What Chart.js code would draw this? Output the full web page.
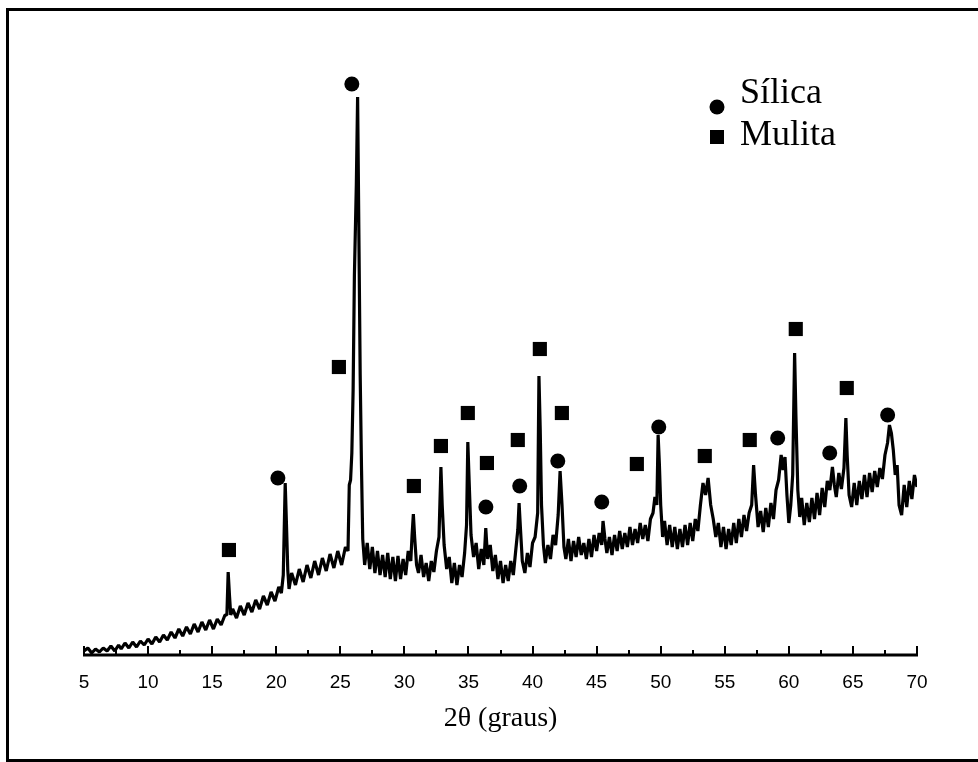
<!DOCTYPE html>
<html>
<head>
<meta charset="utf-8">
<title>DRX - Sílica e Mulita</title>
<script src="https://cdn.jsdelivr.net/npm/chart.js@4.4.1/dist/chart.umd.min.js"></script>
<style>
  html, body { margin: 0; padding: 0; background: #fff; }
  #wrap { position: relative; width: 978px; height: 762px; overflow: hidden; }
</style>
</head>
<body>
<div id="wrap"><canvas id="xrd" width="978" height="762"></canvas></div>
<script>
// Difratograma (2θ em graus x intensidade em u.a.), lido ponto a ponto da figura
const twoTheta = [
  5.0, 5.3, 5.6, 5.9, 6.2, 6.5, 6.8, 7.1, 7.4, 7.7, 7.9, 8.2, 8.5, 8.8, 9.1, 9.4, 9.7, 10.0,
  10.3, 10.6, 10.9, 11.2, 11.5, 11.8, 12.1, 12.4, 12.7, 13.0, 13.3, 13.6, 13.9, 14.2, 14.5, 14.8, 15.1, 15.4, 15.7, 16.0,
  16.15, 16.25, 16.35, 16.45, 16.6, 16.9, 17.2, 17.5, 17.8, 18.1, 18.4, 18.7, 19.0, 19.3, 19.6, 19.9, 20.2, 20.4,
  20.55, 20.7, 20.8, 20.9, 21.0, 21.2, 21.5, 21.8, 22.1, 22.4, 22.7, 23.0, 23.3, 23.6, 23.9, 24.2, 24.5, 24.8, 25.1, 25.4, 25.6,
  25.7, 25.8, 25.9, 26.0, 26.1, 26.25, 26.35, 26.45, 26.55, 26.65, 26.75,
  26.9, 27.1, 27.3, 27.5, 27.7, 27.9, 28.1, 28.3, 28.5, 28.7, 28.9, 29.1, 29.3, 29.5, 29.7, 29.9, 30.1, 30.3, 30.5,
  30.6, 30.7, 30.8, 30.95, 31.1, 31.3, 31.5, 31.7, 31.9, 32.1, 32.3, 32.5, 32.7, 32.85, 32.95, 33.1, 33.3, 33.5, 33.7, 33.9, 34.1, 34.3, 34.5, 34.7, 34.85, 34.95, 35.05, 35.2, 35.4,
  35.6, 35.8, 36.0, 36.2, 36.35, 36.5, 36.7, 36.9, 37.1, 37.3, 37.5, 37.7, 37.9, 38.1, 38.3, 38.5, 38.7, 38.85, 38.95, 39.05, 39.2, 39.4, 39.6, 39.8, 40.0, 40.2, 40.4,
  40.5, 40.6, 40.7, 40.85, 41.0, 41.2, 41.4, 41.6, 41.8, 42.0, 42.15, 42.3, 42.45, 42.6, 42.8, 43.0, 43.2, 43.4, 43.6, 43.8, 44.0, 44.2, 44.4, 44.6, 44.8, 45.0, 45.2, 45.4,
  45.5, 45.65, 45.8, 46.0, 46.2, 46.4, 46.6, 46.8, 47.0, 47.2, 47.4, 47.6, 47.8, 48.0, 48.2, 48.4, 48.6, 48.8, 49.0, 49.2, 49.4, 49.55, 49.7, 49.8, 49.9, 50.0,
  50.15, 50.3, 50.5, 50.7, 50.9, 51.1, 51.3, 51.5, 51.7, 51.9, 52.1, 52.3, 52.5, 52.7, 52.9, 53.1, 53.3, 53.5, 53.7, 53.9, 54.1, 54.3, 54.5, 54.7, 54.9,
  55.1, 55.3, 55.5, 55.7, 55.9, 56.1, 56.3, 56.5, 56.7, 56.9, 57.1, 57.25, 57.4, 57.6, 57.8, 58.0, 58.2, 58.4, 58.6, 58.8, 59.0, 59.2, 59.4, 59.55, 59.7, 59.85,
  60.0, 60.15, 60.3, 60.45, 60.55, 60.7, 60.85, 61.0, 61.2, 61.4, 61.6, 61.8, 62.0, 62.2, 62.4, 62.6, 62.8, 63.0, 63.2, 63.4, 63.55, 63.7, 63.9, 64.1, 64.3, 64.45, 64.55, 64.7, 64.9,
  65.1, 65.3, 65.5, 65.7, 65.9, 66.1, 66.3, 66.5, 66.7, 66.9, 67.1, 67.3, 67.5, 67.7, 67.85, 68.0, 68.15, 68.3, 68.45, 68.6, 68.8, 69.0, 69.2, 69.4, 69.6, 69.8, 70.0
];
const intensity = [
  4, 7, 2, 6, 3, 7, 4, 9, 4, 10, 6, 12, 7, 13, 8, 14, 10, 16,
  11, 18, 13, 20, 15, 23, 17, 26, 19, 28, 21, 31, 23, 33, 25, 35, 26, 36, 30, 40,
  40, 83, 60, 40, 46, 37, 49, 40, 52, 43, 55, 46, 59, 50, 63, 54, 68, 62,
  80, 172, 130, 85, 66, 82, 70, 86, 73, 90, 77, 94, 80, 97, 84, 101, 87, 104, 90, 108, 104,
  170, 175, 202, 265, 380, 470, 558, 420, 281, 190, 116,
  90, 112, 86, 108, 82, 104, 80, 100, 78, 102, 76, 98, 74, 99, 76, 96, 80, 104, 94,
  120, 141, 118, 90, 82, 100, 78, 92, 74, 94, 83, 104, 118, 188, 150, 110, 86, 98, 72, 92, 70, 90, 78, 102, 130, 213, 175, 120, 98,
  112, 86, 106, 90, 127, 96, 110, 84, 100, 76, 94, 72, 90, 74, 94, 80, 106, 125, 152, 128, 94, 82, 102, 88, 112, 118, 142,
  279, 225, 150, 110, 92, 110, 96, 120, 110, 140, 184, 150, 108, 96, 116, 94, 114, 98, 118, 100, 112, 96, 116, 98, 120, 104, 122, 110,
  134, 116, 102, 118, 100, 120, 104, 124, 106, 122, 108, 128, 110, 126, 112, 132, 116, 130, 114, 136, 142, 158, 150, 220, 190, 150,
  118, 134, 110, 130, 108, 128, 106, 126, 108, 130, 110, 132, 114, 136, 124, 150, 172, 160, 177, 150, 136, 118, 132, 108, 128,
  106, 126, 110, 132, 112, 136, 118, 140, 124, 142, 150, 190, 160, 128, 144, 123, 147, 128, 152, 136, 165, 175, 200, 185, 198, 160,
  132, 150, 180, 302, 240, 165, 138, 157, 130, 152, 133, 157, 136, 162, 140, 167, 148, 174, 165, 188, 170, 158, 182, 166, 187, 237, 200, 160, 148,
  172, 150, 174, 156, 180, 158, 182, 163, 184, 168, 187, 176, 200, 212, 230, 222, 205, 180, 190, 150, 140, 170, 148, 174, 156, 180, 168
];

// marcadores de fase (posição 2θ e altura do símbolo)
const silicaTheta = [20.13, 25.9, 36.36, 39.0, 41.97, 45.4, 49.85, 59.13, 63.19, 67.71];
const silicaMark  = [177, 571, 148, 169, 194, 153, 228, 217, 202, 240];
const mulitaTheta = [16.31, 24.89, 30.74, 32.85, 34.95, 36.44, 38.85, 40.57, 42.29, 48.14, 53.44, 56.95, 60.54, 64.52];
const mulitaMark  = [105, 288, 169, 209, 242, 192, 215, 306, 242, 191, 199, 215, 326, 267];

const majorTicks = [5, 10, 15, 20, 25, 30, 35, 40, 45, 50, 55, 60, 65, 70];
const minorTicks = [7.5, 12.5, 17.5, 22.5, 27.5, 32.5, 37.5, 42.5, 47.5, 52.5, 57.5, 62.5, 67.5];

const trace = twoTheta.map((t, i) => ({ x: t, y: intensity[i] }));
const silica = silicaTheta.map((t, i) => ({ x: t, y: silicaMark[i] }));
const mulita = mulitaTheta.map((t, i) => ({ x: t, y: mulitaMark[i] }));

// eixo com marcas para dentro, legenda e moldura
const axisAndFrame = {
  id: 'axisAndFrame',
  beforeDatasetsDraw(chart) {
    const { ctx, scales: { x, y } } = chart;
    const y0 = y.getPixelForValue(0);
    ctx.save();
    ctx.strokeStyle = '#000';
    ctx.lineWidth = 3;
    ctx.beginPath();
    ctx.moveTo(x.getPixelForValue(5) - 1, y0);
    ctx.lineTo(x.getPixelForValue(70) + 1, y0);
    ctx.stroke();
    ctx.lineWidth = 2;
    ctx.beginPath();
    majorTicks.forEach(t => {
      const px = Math.round(x.getPixelForValue(t));
      ctx.moveTo(px, y0);
      ctx.lineTo(px, y0 - 9);
    });
    minorTicks.forEach(t => {
      const px = Math.round(x.getPixelForValue(t));
      ctx.moveTo(px, y0);
      ctx.lineTo(px, y0 - 5);
    });
    ctx.stroke();
    ctx.restore();
  },
  afterDraw(chart) {
    const { ctx } = chart;
    ctx.save();
    ctx.fillStyle = '#000';
    ctx.beginPath();
    ctx.arc(717, 107, 7.5, 0, Math.PI * 2);
    ctx.fill();
    ctx.fillRect(710, 130, 14, 14);
    ctx.font = '36px "Liberation Serif", "Times New Roman", serif';
    ctx.textBaseline = 'alphabetic';
    ctx.textAlign = 'left';
    ctx.fillText('Sílica', 740, 103);
    ctx.fillText('Mulita', 740, 145);
    ctx.strokeStyle = '#000';
    ctx.lineWidth = 3;
    ctx.strokeRect(7.5, 9.5, 1000, 751);
    ctx.restore();
  }
};

new Chart(document.getElementById('xrd'), {
  type: 'scatter',
  data: {
    datasets: [
      { label: 'Difratograma', data: trace, showLine: true, borderColor: '#000', borderWidth: 3.2,
        borderJoinStyle: 'bevel', pointRadius: 0, tension: 0, order: 2 },
      { label: 'Sílica', data: silica, pointStyle: 'circle', pointRadius: 7.5,
        backgroundColor: '#000', borderWidth: 0, order: 1 },
      { label: 'Mulita', data: mulita, pointStyle: 'rect', pointRadius: 10,
        backgroundColor: '#000', borderWidth: 0, order: 1 }
    ]
  },
  options: {
    responsive: false,
    animation: false,
    devicePixelRatio: 1,
    layout: { padding: { left: 84, right: 61, top: 55, bottom: 0 } },
    plugins: { legend: { display: false }, tooltip: { enabled: false } },
    scales: {
      x: {
        type: 'linear',
        min: 5,
        max: 70,
        afterFit(s) { s.height = 107; },
        afterBuildTicks(s) { s.ticks = majorTicks.map(v => ({ value: v })); },
        grid: { display: false, drawTicks: false },
        border: { display: false },
        ticks: {
          color: '#000',
          padding: 16,
          maxRotation: 0,
          autoSkip: false,
          font: { family: '"Liberation Sans", Arial, sans-serif', size: 19 }
        },
        title: {
          display: true,
          text: '2θ (graus)',
          color: '#000',
          font: { family: '"Liberation Serif", "Times New Roman", serif', size: 28 },
          padding: { top: 0, bottom: 27 }
        }
      },
      y: { display: false, min: 0, max: 600 }
    }
  },
  plugins: [axisAndFrame]
});
</script>
</body>
</html>
